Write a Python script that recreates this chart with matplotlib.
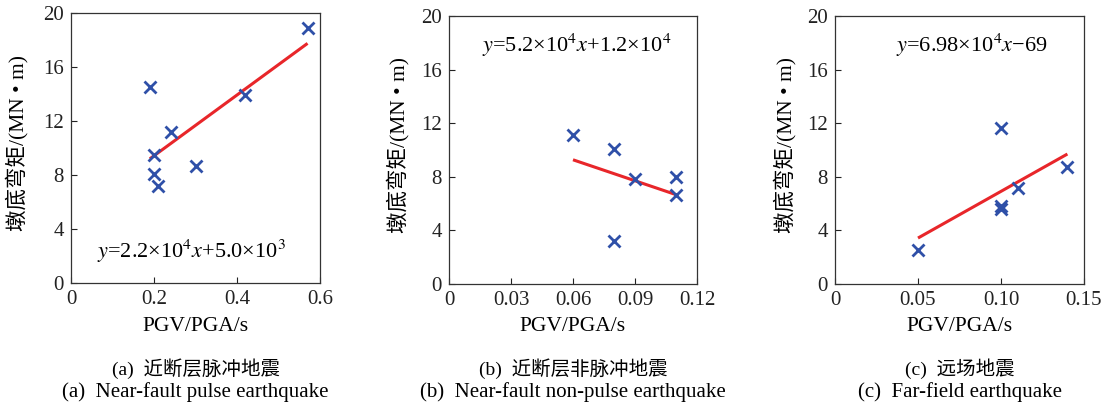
import matplotlib
matplotlib.use("Agg")
import matplotlib.pyplot as plt

plt.rcParams['font.family'] = ['Liberation Serif', 'Noto Sans CJK SC']
plt.rcParams['mathtext.fontset'] = 'stix'

# ---- data ----
x_a = [0.19, 0.57, 0.42, 0.24, 0.20, 0.20, 0.21, 0.30]
y_a = [14.5, 18.9, 13.9, 11.2, 9.5, 8.1, 7.2, 8.65]
fit_a_x = [0.19, 0.57]
fit_a_y = [9.2, 17.75]

x_b = [0.06, 0.08, 0.09, 0.11, 0.11, 0.08]
y_b = [11.15, 10.05, 7.85, 7.95, 6.65, 3.2]
fit_b_x = [0.06, 0.11]
fit_b_y = [9.27, 6.66]

x_c = [0.05, 0.10, 0.10, 0.10, 0.11, 0.14]
y_c = [2.55, 11.65, 5.8, 5.6, 7.15, 8.7]
fit_c_x = [0.05, 0.14]
fit_c_y = [3.43, 9.7]

xticks_a = [0, 0.2, 0.4, 0.6]
xticklabels_a = ['0', '0.2', '0.4', '0.6']
xticks_b = [0, 0.03, 0.06, 0.09, 0.12]
xticklabels_b = ['0', '0.03', '0.06', '0.09', '0.12']
xticks_c = [0, 0.05, 0.10, 0.15]
xticklabels_c = ['0', '0.05', '0.10', '0.15']
yticks = [0, 4, 8, 12, 16, 20]

equations = [r'$y$=2.2×10$^{4}$$x$+5.0×10$^{3}$',
             r'$y$=5.2×10$^{4}$$x$+1.2×10$^{4}$',
             r'$y$=6.98×10$^{4}$$x$−69']
captions_cn = ['(a)  近断层脉冲地震', '(b)  近断层非脉冲地震', '(c)  远场地震']
captions_en = ['(a)  Near-fault pulse earthquake',
               '(b)  Near-fault non-pulse earthquake',
               '(c)  Far-field earthquake']
xlabel = 'PGV/PGA/s'
ylabel = '墩底弯矩/(MN • m)'

W, H = 1117, 404
fig = plt.figure(figsize=(W / 100, H / 100), dpi=100)

# axes boxes in pixels (left, right, top, bottom)
boxes = [(71, 320, 13, 283), (449, 697, 16, 284), (835, 1084, 16, 284)]
ylabel_x = [28, 409, 796]
panels = [
    (x_a, y_a, fit_a_x, fit_a_y, xticks_a, xticklabels_a, (0, 0.6), (0.063, 1.85)),
    (x_b, y_b, fit_b_x, fit_b_y, xticks_b, xticklabels_b, (0, 0.12), (0.016, 17.3)),
    (x_c, y_c, fit_c_x, fit_c_y, xticks_c, xticklabels_c, (0, 0.15), (0.0367, 17.3)),
]

fs = 15
for i, (box, p) in enumerate(zip(boxes, panels)):
    l, r, t, b = box
    ax = fig.add_axes([l / W, 1 - b / H, (r - l) / W, (b - t) / H])
    xs, ys, fx, fy, xt, xtl, xlim, eqpos = p
    ax.plot(fx, fy, color='#E8262A', lw=2.2, solid_capstyle='butt', zorder=2)
    ax.plot(xs, ys, linestyle='none', marker='x', color='#2F50A8', ms=8.5, mew=2, zorder=3)
    ax.set_xlim(*xlim)
    ax.set_ylim(0, 20)
    ax.set_xticks(xt)
    ax.set_xticklabels(xtl)
    ax.set_yticks(yticks)
    ax.set_yticklabels([str(v) for v in yticks])
    ax.tick_params(direction='in', length=4, width=0.8, labelsize=fs,
                   top=False, right=False, colors='#222222', pad=5)
    for s in ax.spines.values():
        s.set_linewidth(0.9)
        s.set_color('#333333')
    ax.set_xlabel(xlabel, fontsize=fs + 0.5)
    ax.xaxis.set_label_coords(0.5, (b - 317) / (b - t))
    ax.set_ylabel(ylabel, fontsize=fs + 0.5)
    ax.yaxis.set_label_coords((ylabel_x[i] - l) / (r - l), 0.52)
    ax.text(eqpos[0], eqpos[1], equations[i], fontsize=fs + 1, ha='left', va='baseline')
    cx = (l + r) / 2 / W
    fig.text(cx, 1 - 375 / H, captions_cn[i], ha='center', va='baseline', fontsize=14)
    fig.text(cx, 1 - 397 / H, captions_en[i], ha='center', va='baseline', fontsize=fs)

fig.savefig('out.png', dpi=100)
